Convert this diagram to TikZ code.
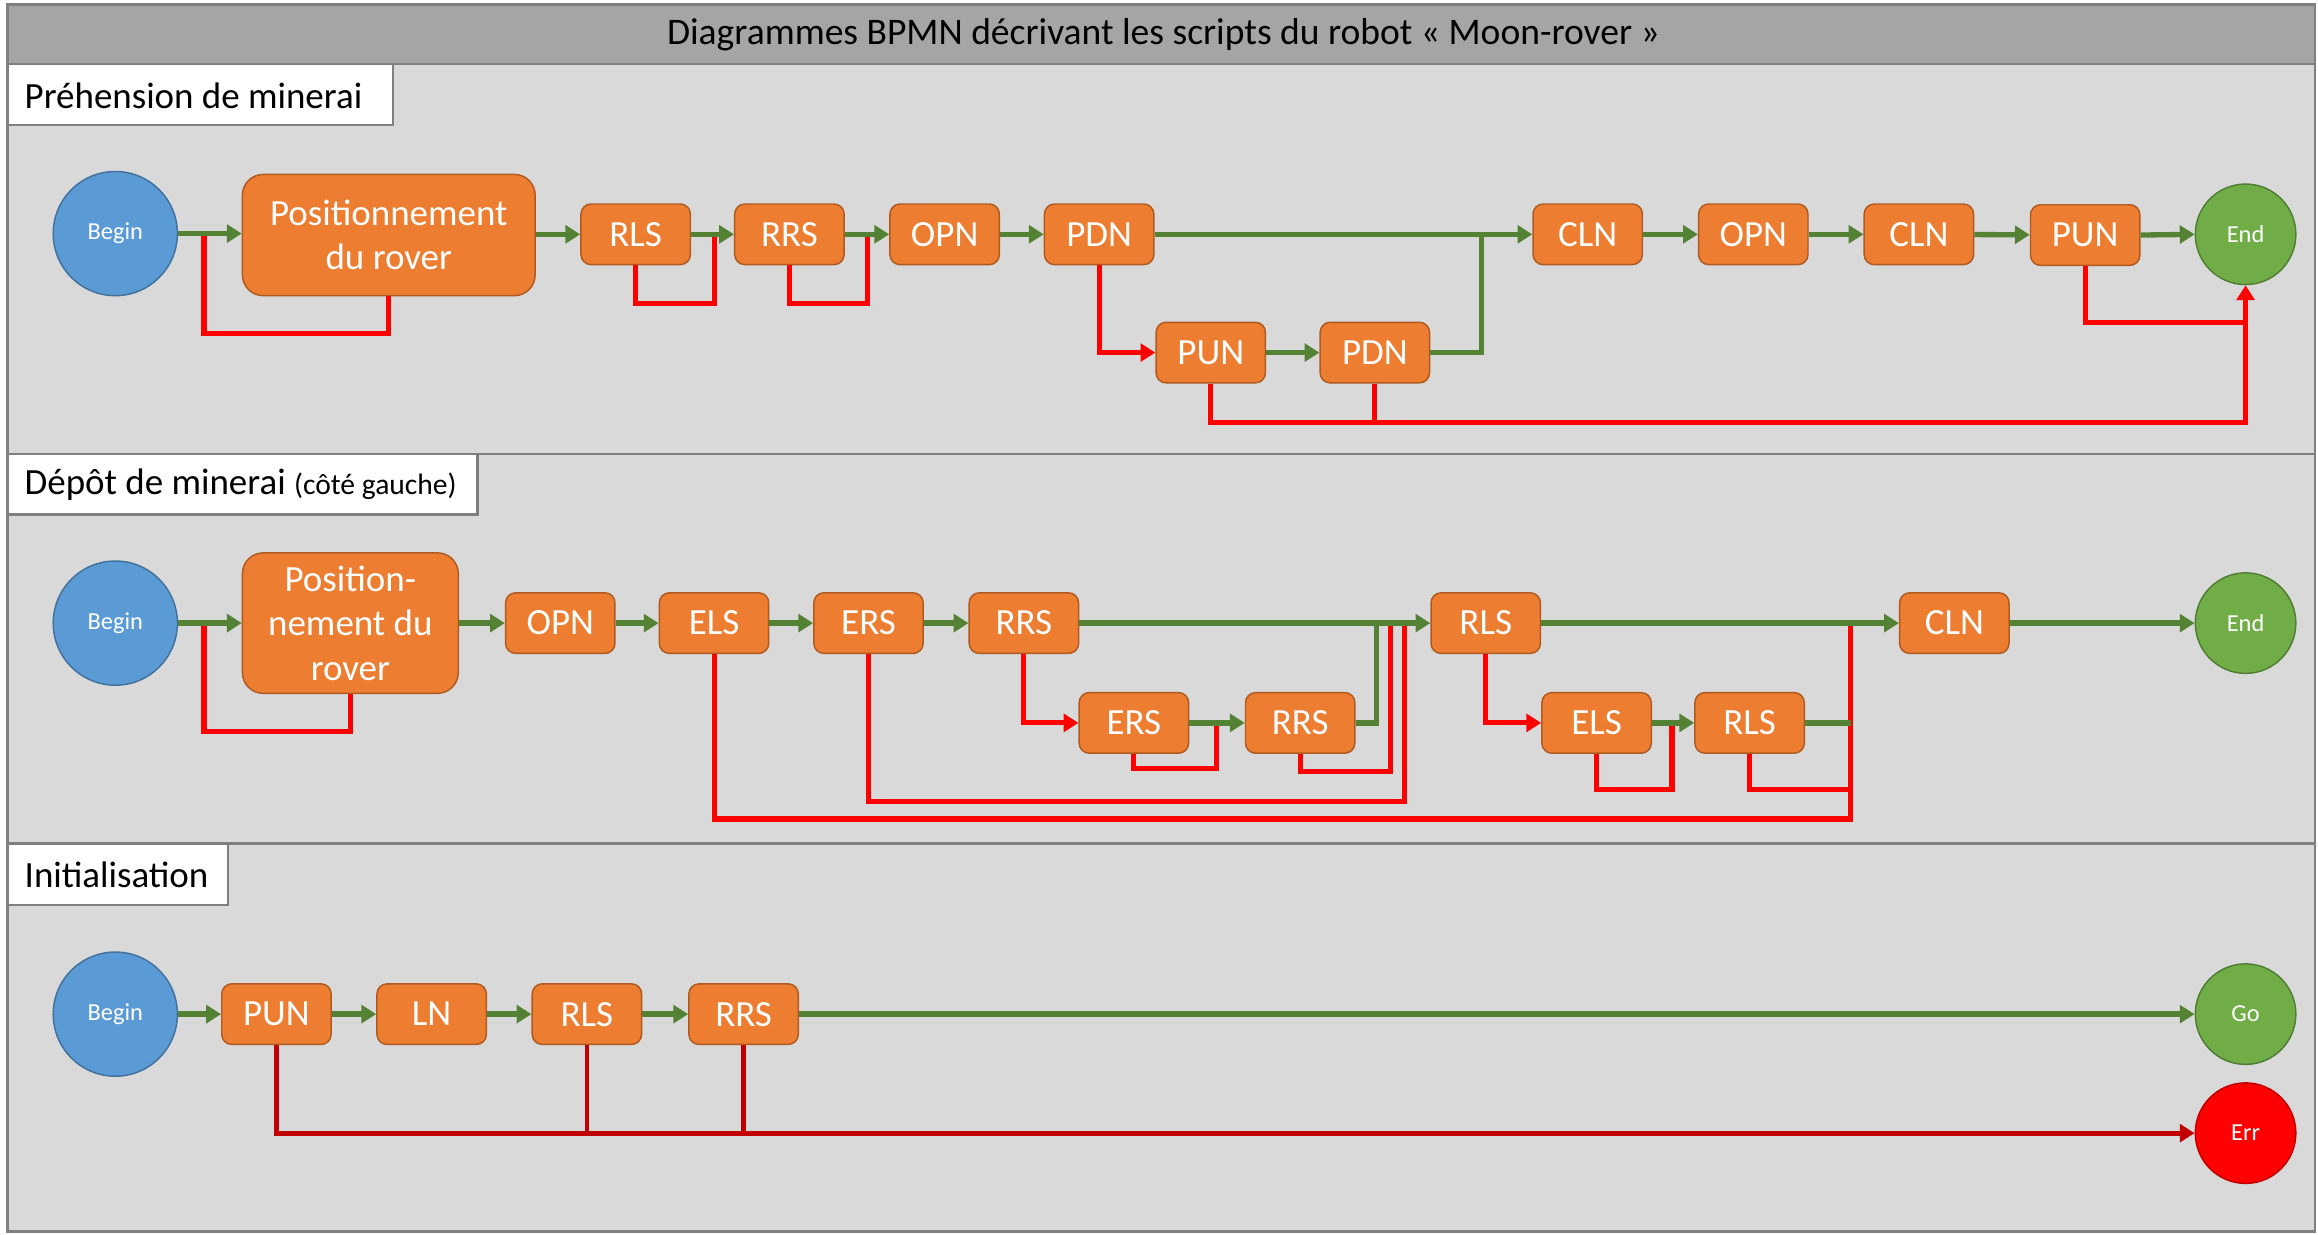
\documentclass[tikz,border=0pt]{standalone}
\usepackage{fontspec}
\setmainfont{Carlito}
\usetikzlibrary{arrows.meta}

\definecolor{frame}{HTML}{7F7F7F}
\definecolor{titlebg}{HTML}{A5A5A5}
\definecolor{lanebg}{HTML}{D9D9D9}
\definecolor{taskfill}{HTML}{ED7D31}
\definecolor{taskline}{HTML}{AE5A21}
\definecolor{startfill}{HTML}{5B9BD5}
\definecolor{startline}{HTML}{41719C}
\definecolor{endfill}{HTML}{70AD47}
\definecolor{endline}{HTML}{507E32}
\definecolor{flowok}{HTML}{548235}
\definecolor{flowko}{HTML}{FF0000}
\definecolor{flowerr}{HTML}{C00000}

\tikzset{
  lane/.style={fill=lanebg, draw=frame, line width=1.5pt},
  lanelabel/.style={fill=white, draw=frame, line width=1.5pt},
  labeltext/.style={anchor=west, inner sep=0pt, font=\fontsize{25}{30}\selectfont},
  task/.style={rectangle, rounded corners=6.8pt, fill=taskfill, draw=taskline,
    line width=1pt, minimum width=74pt, minimum height=41pt, inner sep=0pt,
    text=white, font=\fontsize{25}{30}\selectfont},
  bigtask/.style={task, align=center, rounded corners=14pt},
  startevt/.style={circle, fill=startfill, draw=startline, line width=1pt,
    minimum size=84pt, inner sep=0pt, text=white, font=\fontsize{16.5}{20}\selectfont},
  endevt/.style={circle, fill=endfill, draw=endline, line width=1pt,
    minimum size=68pt, inner sep=0pt, text=white, font=\fontsize{16.5}{20}\selectfont},
  errevt/.style={endevt, fill=flowko, draw=flowerr},
  ok/.style={draw=flowok, line width=3.6pt},
  okA/.style={ok, -{Triangle[length=10pt,width=12pt]}},
  ko/.style={draw=flowko, line width=3.4pt},
  koA/.style={ko, -{Triangle[length=10pt,width=12pt]}},
  kd/.style={draw=flowerr, line width=3.2pt},
  kdA/.style={kd, -{Triangle[length=10pt,width=12pt]}},
}

\begin{document}
\begin{tikzpicture}[x=1pt, y=-1pt]
\useasboundingbox (0,0) rectangle (1568,835);
\fill[white] (0,0) rectangle (1568,835);

% ---------- frame, title bar and swimlanes ----------
\draw[fill=titlebg, draw=frame, line width=1.5pt] (5,3) rectangle (1566,43.5);
\node[font=\fontsize{25.4}{30}\selectfont, inner sep=0pt] (title) at (787,23.5)
  {Diagrammes BPMN décrivant les scripts du robot « Moon-rover »};

\draw[lane] (5,43.5) rectangle (1566,307);
\draw[lane] (5,307) rectangle (1566,570.5);
\draw[lane] (5,570.5) rectangle (1566,833);

\draw[lanelabel] (5,43.5) rectangle (266,84.5);
\node[labeltext] (lab1) at (16.5,64.5) {Préhension de minerai};
\draw[lanelabel] (5,307) rectangle (323,348);
\node[labeltext] (lab2) at (16.5,328)
  {Dépôt de minerai {\fontsize{20}{24}\selectfont (côté gauche)}};
\draw[lanelabel] (5,570.5) rectangle (154,612);
\node[labeltext] (lab3) at (16.5,591.5) {Initialisation};

% ---------- lane 1 : Préhension de minerai ----------
\node[startevt] (b1) at (78,158) {Begin};
\node[bigtask, minimum width=198pt, minimum height=82pt] (pos1) at (263,159)
  {Positionnement\\du rover};
\node[task] (rls1) at (430,158.5) {RLS};
\node[task] (rrs1) at (534,158.5) {RRS};
\node[task] (opn1) at (639,158.5) {OPN};
\node[task] (pdn1) at (743.5,158.5) {PDN};
\node[task] (pun1l) at (819,238.5) {PUN};
\node[task] (pdn1l) at (930,238.5) {PDN};
\node[task] (cln1) at (1074,158.5) {CLN};
\node[task] (opn1b) at (1186,158.5) {OPN};
\node[task] (cln1b) at (1298,158.5) {CLN};
\node[task] (pun1) at (1410.5,159) {PUN};
\node[endevt] (end1) at (1519,158.5) {End};

\coordinate (j11) at (138,158.5);
\coordinate (j12) at (483,158.5);
\coordinate (j13) at (587,158.5);
\coordinate (j14) at (1002,158.5);
\coordinate (j15) at (1519,218);

\draw[ko] (pos1.south) -- ++(0,25) -| (j11);
\draw[ko] (rls1.south) -- ++(0,25.5) -| (j12);
\draw[ko] (rrs1.south) -- ++(0,25.5) -| (j13);
\draw[koA] (pdn1.south) |- (pun1l.west);
\draw[koA] (pun1l.south) -- ++(0,26) -| (end1.south);
\draw[ko] (pdn1l.south) -- ++(0,26);
\draw[ko] (pun1.south) |- (j15);

\draw[okA] (b1.east) -- (pos1.west |- b1.east);
\draw[okA] (pos1.east |- rls1.west) -- (rls1.west);
\draw[okA] (rls1) -- (rrs1);
\draw[okA] (rrs1) -- (opn1);
\draw[okA] (opn1) -- (pdn1);
\draw[okA] (pdn1) -- (cln1);
\draw[okA] (pun1l) -- (pdn1l);
\draw[ok] (pdn1l.east) -| (j14);
\draw[okA] (cln1) -- (opn1b);
\draw[okA] (opn1b) -- (cln1b);
\draw[okA] (cln1b) -- (pun1);
\draw[okA] (pun1.east) -- (end1.west);

% ---------- lane 2 : Dépôt de minerai ----------
\node[startevt] (b2) at (78,421.5) {Begin};
\node[bigtask, minimum width=146pt, minimum height=95pt] (pos2) at (237,421.5)
  {Position-\\nement du\\rover};
\node[task] (opn2) at (379,421.5) {OPN};
\node[task] (els2) at (483,421.5) {ELS};
\node[task] (ers2) at (587.5,421.5) {ERS};
\node[task] (rrs2) at (692.6,421.5) {RRS};
\node[task] (ers2l) at (767,489) {ERS};
\node[task] (rrs2l) at (879.5,489) {RRS};
\node[task] (rls2) at (1005,421.5) {RLS};
\node[task] (els2l) at (1080,489) {ELS};
\node[task] (rls2l) at (1183.5,489) {RLS};
\node[task] (cln2) at (1322,421.5) {CLN};
\node[endevt] (end2) at (1519,421.5) {End};

\coordinate (j21) at (138,421.5);
\coordinate (j22) at (823,489);
\coordinate (j23) at (931,421.5);
\coordinate (j24) at (940.5,421.5);
\coordinate (j25) at (950,421.5);
\coordinate (j26) at (1131,489);
\coordinate (j27) at (1252,421.5);
\coordinate (j28) at (1252,489);
\coordinate (j29) at (1252,534);

\draw[ko] (pos2.south) -- ++(0,25) -| (j21);
\draw[koA] (rrs2.south) |- (ers2l.west);
\draw[ko] (ers2l.south) -- ++(0,10) -| (j22);
\draw[ko] (rrs2l.south) -- ++(0,12) -| (j24);
\draw[ko] (ers2.south) -- ++(0,99.5) -| (j25);
\draw[ko] (els2.south) -- ++(0,111.5) -| (j27);
\draw[koA] (rls2.south) |- (els2l.west);
\draw[ko] (els2l.south) -- ++(0,24) -| (j26);
\draw[ko] (rls2l.south) -- ++(0,24) -- (j29);

\draw[okA] (b2.east) -- (pos2.west |- b2.east);
\draw[okA] (pos2.east |- opn2.west) -- (opn2.west);
\draw[okA] (opn2) -- (els2);
\draw[okA] (els2) -- (ers2);
\draw[okA] (ers2) -- (rrs2);
\draw[okA] (rrs2) -- (rls2);
\draw[okA] (ers2l) -- (rrs2l);
\draw[ok] (rrs2l.east) -| (j23);
\draw[okA] (rls2) -- (cln2);
\draw[okA] (els2l) -- (rls2l);
\draw[ok] (rls2l.east) -- (j28);
\draw[okA] (cln2) -- (end2);

% ---------- lane 3 : Initialisation ----------
\node[startevt] (b3) at (78,686) {Begin};
\node[task] (pun3) at (187,686) {PUN};
\node[task] (ln3) at (292,686) {LN};
\node[task] (rls3) at (397,686) {RLS};
\node[task] (rrs3) at (503,686) {RRS};
\node[endevt] (go3) at (1519,686) {Go};
\node[errevt] (err3) at (1519,766.5) {Err};

\draw[kdA] (pun3.south) |- (err3.west);
\draw[kd] (rls3.south) -- (rls3.south |- err3.west);
\draw[kd] (rrs3.south) -- (rrs3.south |- err3.west);

\draw[okA] (b3) -- (pun3);
\draw[okA] (pun3) -- (ln3);
\draw[okA] (ln3) -- (rls3);
\draw[okA] (rls3) -- (rrs3);
\draw[okA] (rrs3) -- (go3);
\end{tikzpicture}
\end{document}
